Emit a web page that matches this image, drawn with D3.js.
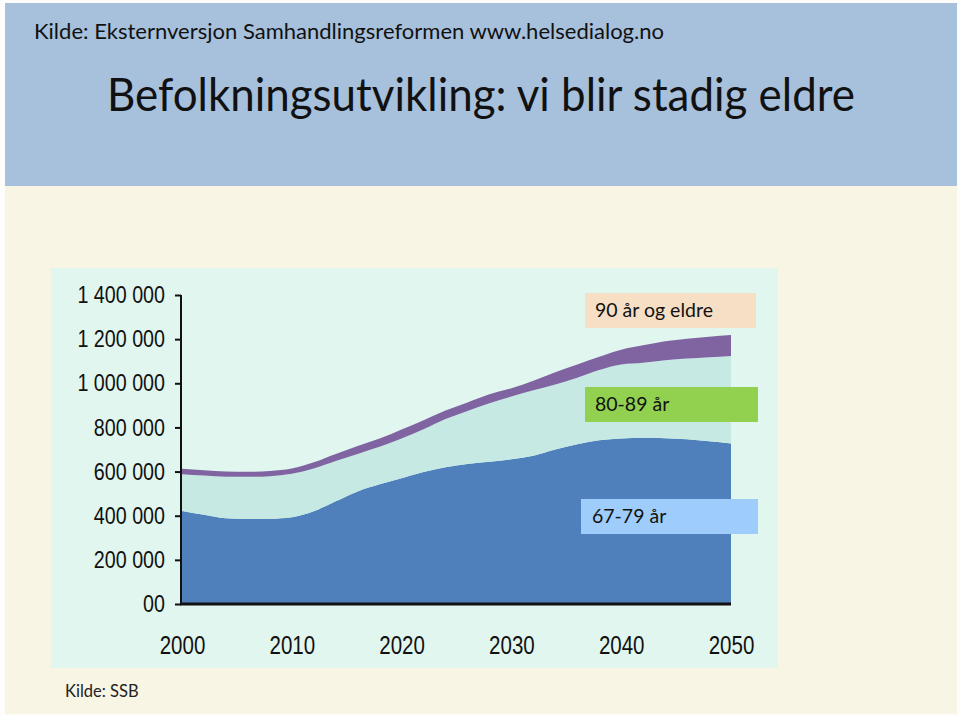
<!DOCTYPE html>
<html>
<head>
<meta charset="utf-8">
<script src="https://cdn.jsdelivr.net/npm/d3@7"></script>
<style>
  html, body { margin: 0; padding: 0; background: #fdfdfb; }
  svg { display: block; }
</style>
</head>
<body>
<svg width="960" height="716"></svg>
<script>
// Befolkning 67 år og eldre, per aldersgruppe (lest av figuren, antall personer)
const years = [2000, 2002, 2004, 2006, 2008, 2010, 2012, 2014, 2016, 2018, 2020, 2022, 2024,
               2026, 2028, 2030, 2032, 2034, 2036, 2038, 2040, 2042, 2044, 2046, 2048, 2050];
const age67to79 = [421, 404, 388, 385, 386, 393, 420, 465, 510, 542, 570, 598, 620,
                   634, 644, 656, 672, 700, 724, 742, 750, 753, 751, 746, 737, 727].map(v => v * 1000);
const age80to89 = [167, 178, 189, 191, 193, 197, 194, 183, 170, 170, 180, 194, 218,
                   241, 266, 284, 296, 295, 301, 318, 335, 340, 353, 366, 381, 397].map(v => v * 1000);
const age90plus = [25, 24, 23, 23, 24, 24, 28, 32, 36, 38, 41, 41, 39,
                   38, 40, 38, 44, 55, 60, 60, 67, 79, 86, 90, 93, 95].map(v => v * 1000);

const yTicks = [0, 200000, 400000, 600000, 800000, 1000000, 1200000, 1400000];
const xTicks = [2000, 2010, 2020, 2030, 2040, 2050];

const keys = ["a67", "a80", "a90"];
const colors = { a67: "#4f80bc", a80: "#c6e9e4", a90: "#8064a2" };
const legend = [
    { key: "a90", label: "90 år og eldre", bg: "#f6dfc4", x: 585, y: 293, w: 171 },
    { key: "a80", label: "80-89 år", bg: "#92d050", x: 585, y: 387, w: 173 },
    { key: "a67", label: "67-79 år", bg: "#9fcdfb", x: 581, y: 499, w: 177 }
];

const table = years.map((yr, i) => ({
    year: yr,
    a67: age67to79[i],
    a80: age80to89[i],
    a90: age90plus[i]
}));

const svg = d3.select("svg");

// bakgrunn
svg.append("rect").attr("x", 5).attr("y", 3).attr("width", 952).attr("height", 183).attr("fill", "#a7c0dc");
svg.append("rect").attr("x", 5).attr("y", 186).attr("width", 952).attr("height", 528).attr("fill", "#f8f5e4");
svg.append("rect").attr("x", 51).attr("y", 268).attr("width", 727).attr("height", 400).attr("fill", "#e1f6ee");

svg.append("text")
    .attr("x", 34).attr("y", 39)
    .style("font-family", "Lato, sans-serif")
    .style("font-size", "21px")
    .attr("fill", "#111")
    .attr("textLength", 630)
    .attr("lengthAdjust", "spacingAndGlyphs")
    .text("Kilde: Eksternversjon Samhandlingsreformen www.helsedialog.no");

svg.append("text")
    .attr("x", 481).attr("y", 111)
    .attr("text-anchor", "middle")
    .style("font-family", "Lato, sans-serif")
    .style("font-size", "46px")
    .attr("fill", "#111")
    .attr("textLength", 748)
    .attr("lengthAdjust", "spacingAndGlyphs")
    .text("Befolkningsutvikling: vi blir stadig eldre");

svg.append("text")
    .attr("x", 65).attr("y", 697)
    .style("font-family", "Lato, sans-serif")
    .style("font-size", "16.5px")
    .attr("fill", "#222")
    .text("Kilde: SSB");

const x = d3.scaleLinear().domain([2000, 2050]).range([182, 731]);
const y = d3.scaleLinear().domain([0, 1400000]).range([604, 295]);

const series = d3.stack().keys(keys)(table);

const area = d3.area()
    .x(d => x(d.data.year))
    .y0(d => y(d[0]))
    .y1(d => y(d[1]))
    .curve(d3.curveMonotoneX);

svg.append("g")
    .selectAll("path")
    .data(series)
    .enter()
    .append("path")
    .attr("d", area)
    .attr("fill", d => colors[d.key]);

// smal skrift: Arial Narrow finnes ikke, så tekst klemmes til ca. 82 %
function narrow(sel) {
    sel.each(function () {
        const w = this.getComputedTextLength();
        d3.select(this).attr("textLength", w * 0.82).attr("lengthAdjust", "spacingAndGlyphs");
    });
}

// y-akse
const yAxis = svg.append("g")
    .attr("transform", "translate(181,0)")
    .call(d3.axisLeft(y)
        .tickValues(yTicks)
        .tickSize(6)
        .tickPadding(10)
        .tickFormat(d => d === 0 ? "00" : d3.format(",")(d).replace(/,/g, " ")));
yAxis.select(".domain").attr("stroke", "#111").attr("stroke-width", 2).attr("d", `M0,${y(1400000)}V${y(0)}`);
yAxis.selectAll(".tick line").attr("stroke", "#111").attr("stroke-width", 2);
yAxis.selectAll(".tick text")
    .attr("fill", "#111")
    .style("font-family", "'Liberation Sans', Arial, sans-serif")
    .style("font-size", "24px")
    .call(narrow);

// x-akse
const xAxis = svg.append("g")
    .attr("transform", `translate(0,${y(0)})`)
    .call(d3.axisBottom(x).tickValues(xTicks).tickSize(0).tickPadding(32).tickFormat(d3.format("d")));
xAxis.select(".domain").attr("stroke", "#111").attr("stroke-width", 3).attr("d", `M180,0H731`);
xAxis.selectAll(".tick text")
    .attr("fill", "#111")
    .style("font-family", "'Liberation Sans', Arial, sans-serif")
    .style("font-size", "25px")
    .call(narrow);

// forklaring
const leg = svg.append("g")
    .selectAll("g")
    .data(legend)
    .enter()
    .append("g")
    .attr("transform", d => `translate(${d.x},${d.y})`);

leg.append("rect")
    .attr("width", d => d.w)
    .attr("height", 35)
    .attr("fill", d => d.bg);

leg.append("text")
    .attr("x", d => d.key === "a67" ? 11 : 10)
    .attr("y", 24)
    .style("font-family", "Lato, sans-serif")
    .style("font-size", "19.5px")
    .attr("fill", "#111")
    .text(d => d.label);
</script>
</body>
</html>
